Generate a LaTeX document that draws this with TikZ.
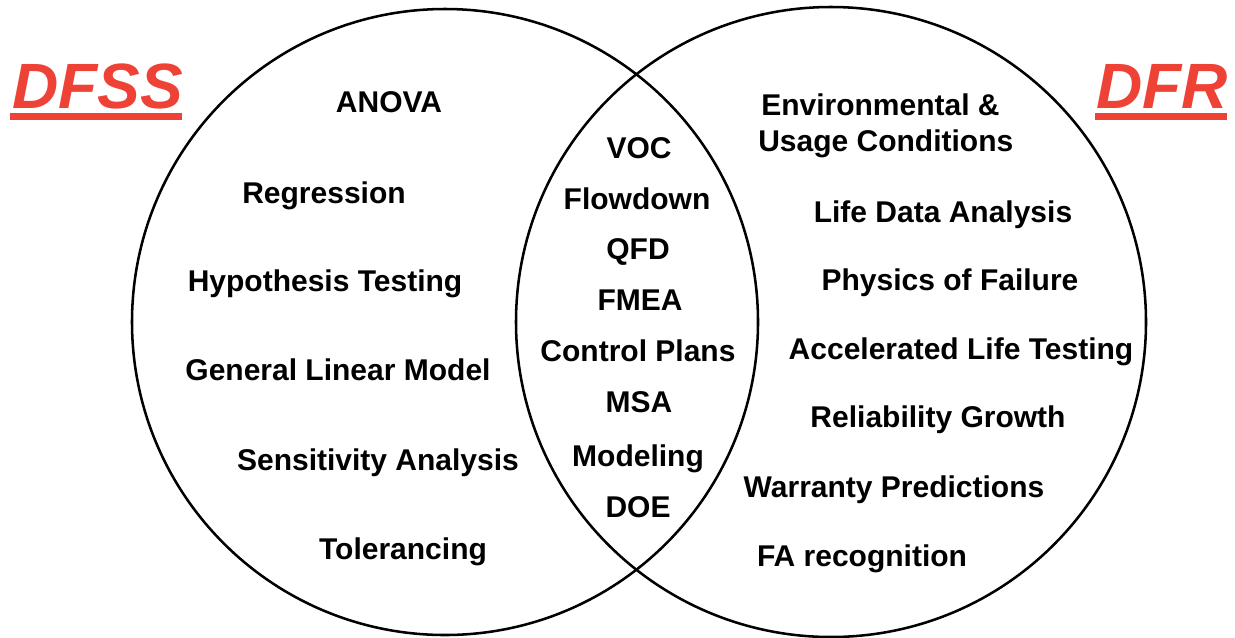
\documentclass[tikz,border=0pt]{standalone}
\usepackage{fontspec}
\setmainfont{Liberation Sans}
\usepackage{tikz}
\definecolor{dfred}{RGB}{238,66,54}

\begin{document}
\begin{tikzpicture}[x=0.75pt,y=0.75pt,yscale=-1,xscale=1,
  item/.style={anchor=base,inner sep=0.75pt,font=\fontsize{22.5}{27}\bfseries\selectfont},
  title/.style={anchor=base west,inner sep=0pt,text=dfred,font=\fontsize{48}{56}\bfseries\itshape\selectfont},
  ring/.style={line width=1.9pt}]
\useasboundingbox (0,0) rectangle (1235,637);

%Shape: Circle [id:dfss]
\draw [ring] (445,322) circle [radius=313];
%Shape: Circle [id:dfr]
\draw [ring] (831,322) circle [radius=315];

% Titles
\node [title] (tdfss) at (12,108) {DFSS};
\fill [dfred] (10,113) rectangle (182,120);
\node [title] (tdfr) at (1096,108) {DFR};
\fill [dfred] (1095,113) rectangle (1227,120);

% Text Node: left side
\node [item] (anova) at (389,112) {ANOVA};
\node [item] (regr) at (324,203) {Regression};
\node [item] (hypo) at (325,291) {Hypothesis Testing};
\node [item] (glm) at (338,380) {General Linear Model};
\node [item] (sens) at (378,470) {Sensitivity Analysis};
\node [item] (tol) at (403,559) {Tolerancing};

% Text Node: overlap
\node [item] (voc) at (639,158) {VOC};
\node [item] (flow) at (637,209) {Flowdown};
\node [item] (qfd) at (638,259) {QFD};
\node [item] (fmea) at (640,310) {FMEA};
\node [item] (ctrl) at (638,361) {Control Plans};
\node [item] (msa) at (639,412) {MSA};
\node [item] (model) at (638,466) {Modeling};
\node [item] (doe) at (638,517) {DOE};

% Text Node: right side
\node [item,anchor=base west] (env) at (760,115) {Environmental \&};
\node [item,anchor=base west] (usage) at (757,151) {Usage Conditions};
\node [item] (lda) at (943,222) {Life Data Analysis};
\node [item] (pof) at (950,290) {Physics of Failure};
\node [item] (alt) at (961,359) {Accelerated Life Testing};
\node [item] (rel) at (938,427) {Reliability Growth};
\node [item] (warr) at (894,497) {Warranty Predictions};
\node [item] (fa) at (862,566) {FA recognition};

\end{tikzpicture}
\end{document}
